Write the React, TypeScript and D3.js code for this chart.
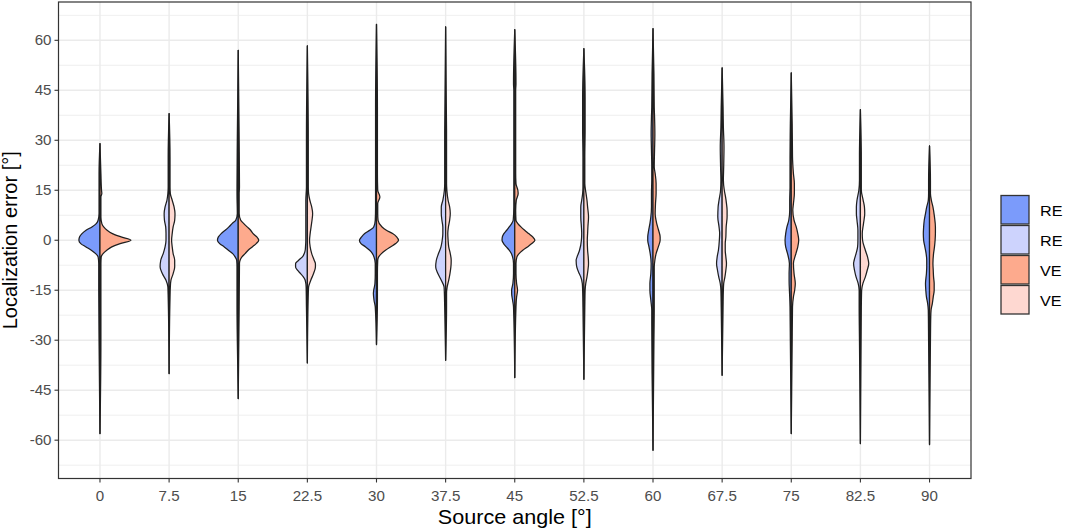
import * as d3 from "d3";

type Profile = [number, number][]; // [localization error, relative density in %]

const WIDTH = 1065;
const HEIGHT = 530;
const PANEL = { left: 58.5, right: 971, top: 2, bottom: 478.5 };
const FONT = "'Liberation Sans', Arial, sans-serif";
const STRETCH = 1.08; // the reference text is set a little wide
const GRID = "#EBEBEB";
const OUTLINE = "#1f1f1f";
const RE_FILLS = ["#7B9BFB", "#CDD3FD"];
const VE_FILLS = ["#FDAA8D", "#FED8D1"];

const ANGLES = ["0", "7.5", "15", "22.5", "30", "37.5", "45", "52.5", "60", "67.5", "75", "82.5", "90"];
const Y_TICKS = [-60, -45, -30, -15, 0, 15, 30, 45, 60];
const Y_MINOR = [-67.5, -52.5, -37.5, -22.5, -7.5, 7.5, 22.5, 37.5, 52.5, 67.5];
const LEGEND_LABELS = ["RE", "RE", "VE", "VE"];

// left halves (RE), one profile per source angle, from top of tail to bottom
const RE_DENSITY: Profile[] = [
  [[29, 0], [20, 3], [12, 3], [8, 3], [6, 6], [5, 12], [4, 26], [3, 45], [2, 58], [1, 66], [0, 68], [-1, 62], [-2, 45], [-3, 28], [-4, 14], [-5, 6], [-7, 4], [-15, 4], [-30, 3], [-58, 0]],
  [[38, 0], [25, 3], [16, 3], [14, 4], [12, 7], [10, 13], [8, 16], [6, 15], [4, 11], [2, 10], [0, 10], [-2, 13], [-4, 19], [-6, 27], [-8, 29], [-10, 22], [-12, 10], [-14, 4], [-17, 3], [-40, 0]],
  [[57, 0], [30, 3], [16, 4], [14, 4], [8, 3], [6, 8], [5, 20], [4, 30], [3, 42], [2, 55], [1, 64], [0, 67], [-1, 60], [-2, 45], [-3, 32], [-4, 18], [-5, 10], [-6, 5], [-8, 4], [-20, 4], [-30, 3], [-47.5, 0]],
  [[58.3, 0], [30, 3], [16, 3], [12, 5], [8, 5], [4, 5], [0, 5], [-2, 6], [-3, 7], [-4, 10], [-5, 16], [-6, 28], [-7, 38], [-8, 38], [-9, 32], [-10, 22], [-11, 13], [-12, 7], [-14, 4], [-20, 3], [-36.8, 0]],
  [[64.8, 0], [40, 3], [20, 3], [10, 3], [6, 4], [4, 9], [3, 22], [2, 38], [1, 48], [0, 55], [-1, 50], [-2, 35], [-3, 22], [-4, 13], [-5, 8], [-7, 4], [-10, 4], [-13, 5], [-15, 9], [-16, 10], [-18, 8], [-20, 4], [-31.3, 0]],
  [[64, 0], [30, 3], [17, 3], [15, 4], [12, 9], [10, 14], [8, 14], [6, 12], [4, 9], [2, 9], [0, 11], [-2, 15], [-4, 23], [-6, 30], [-8, 32], [-10, 25], [-12, 14], [-14, 5], [-16, 4], [-20, 3], [-36, 0]],
  [[63.2, 0], [47, 4], [45, 3], [20, 3], [10, 3], [6, 5], [5, 10], [4, 18], [3, 26], [2, 35], [1, 40], [0, 41], [-1, 36], [-2, 27], [-3, 18], [-4, 11], [-5, 7], [-7, 4], [-10, 4], [-13, 6], [-15, 10], [-16, 10], [-18, 7], [-20, 4], [-41.2, 0]],
  [[57.5, 0], [43, 4], [33, 4], [25, 3], [16, 3], [14, 4], [12, 7], [10, 10], [7, 10], [4, 8], [2, 7], [0, 8], [-3, 14], [-5, 22], [-6, 25], [-8, 23], [-10, 15], [-11, 10], [-13, 5], [-15, 4], [-20, 3], [-41.7, 0]],
  [[63.5, 0], [50, 3], [40, 4], [37, 5], [32, 6], [27, 5], [22, 4], [18, 4], [14, 5], [10, 5], [7, 7], [5, 10], [3, 14], [1, 17], [0, 17], [-2, 13], [-4, 9], [-7, 6], [-10, 7], [-13, 10], [-15, 10], [-18, 7], [-21, 4], [-25, 4], [-40, 3], [-63, 0]],
  [[51.7, 0], [40, 3], [34, 4], [28, 6], [22, 5], [18, 4], [15, 5], [12, 10], [10, 13], [7, 14], [4, 10], [2, 8], [0, 9], [-3, 12], [-5, 16], [-7, 18], [-9, 15], [-11, 11], [-13, 6], [-15, 4], [-20, 3], [-40.5, 0]],
  [[50.2, 0], [35, 3], [25, 4], [20, 4], [16, 4], [12, 5], [9, 5], [6, 8], [4, 14], [2, 18], [0, 20], [-2, 18], [-4, 12], [-7, 6], [-10, 7], [-12, 7], [-15, 6], [-17, 5], [-20, 4], [-30, 3], [-58, 0]],
  [[39.2, 0], [25, 3], [18, 3], [15, 5], [12, 11], [10, 13], [8, 13], [6, 11], [3, 8], [0, 8], [-2, 9], [-4, 14], [-6, 20], [-7, 22], [-9, 19], [-11, 14], [-13, 7], [-15, 4], [-20, 4], [-30, 3], [-61, 0]],
  [[28.3, 0], [18, 3], [14, 3], [12, 4], [10, 9], [8, 13], [6, 17], [4, 19], [2, 20], [0, 19], [-2, 15], [-4, 11], [-6, 9], [-8, 9], [-10, 10], [-13, 13], [-15, 12], [-17, 10], [-19, 6], [-21, 4], [-30, 3], [-61.3, 0]],
];

// right halves (VE)
const VE_DENSITY: Profile[] = [
  [[29, 0], [20, 3], [15, 5], [14, 6], [13, 3], [8, 3], [7, 3], [5, 6], [4, 12], [3, 23], [2, 40], [1, 68], [0, 100], [-1, 65], [-2, 38], [-3, 22], [-4, 10], [-5, 4], [-7, 3], [-30, 3], [-58, 0]],
  [[38, 0], [25, 3], [16, 3], [14, 4], [12, 10], [10, 16], [8, 19], [6, 18], [4, 13], [2, 10], [0, 8], [-2, 10], [-4, 13], [-6, 18], [-8, 18], [-10, 13], [-12, 6], [-14, 4], [-17, 3], [-40, 0]],
  [[57, 0], [30, 3], [16, 4], [14, 3], [8, 3], [6, 8], [5, 18], [4, 29], [3, 40], [2, 48], [1, 60], [0, 66], [-1, 58], [-2, 45], [-3, 32], [-4, 22], [-5, 12], [-6, 6], [-7, 4], [-20, 3], [-47.5, 0]],
  [[58.3, 0], [30, 3], [16, 3], [14, 4], [12, 8], [10, 14], [8, 17], [6, 15], [4, 12], [2, 9], [0, 7], [-2, 9], [-4, 14], [-6, 22], [-7, 26], [-8, 26], [-10, 20], [-12, 11], [-14, 4], [-16, 3], [-36.8, 0]],
  [[64.8, 0], [40, 3], [20, 3], [15, 4], [13, 11], [11, 4], [8, 4], [6, 5], [4, 18], [3, 32], [2, 52], [1, 65], [0, 71], [-1, 62], [-2, 45], [-3, 29], [-4, 16], [-5, 7], [-6, 4], [-10, 3], [-15, 3], [-18, 3], [-31.3, 0]],
  [[64, 0], [30, 3], [17, 3], [15, 4], [12, 8], [10, 13], [8, 15], [6, 13], [4, 9], [2, 7], [0, 8], [-2, 10], [-4, 15], [-6, 18], [-8, 17], [-10, 14], [-12, 10], [-14, 5], [-16, 3], [-20, 3], [-36, 0]],
  [[63.2, 0], [47, 4], [45, 3], [20, 3], [17, 4], [15, 10], [14, 11], [12, 5], [9, 3], [6, 4], [5, 10], [4, 20], [3, 32], [2, 45], [1, 58], [0, 65], [-1, 55], [-2, 41], [-3, 26], [-4, 14], [-5, 7], [-7, 4], [-10, 4], [-13, 6], [-15, 9], [-17, 6], [-20, 4], [-41.2, 0]],
  [[57.5, 0], [43, 4], [33, 4], [25, 3], [17, 3], [14, 7], [12, 10], [10, 12], [7, 15], [4, 13], [2, 12], [0, 11], [-3, 12], [-5, 14], [-7, 15], [-9, 13], [-11, 10], [-13, 6], [-15, 4], [-20, 3], [-41.7, 0]],
  [[63.5, 0], [50, 3], [40, 4], [37, 5], [32, 6], [27, 5], [22, 4], [20, 7], [17, 10], [14, 10], [11, 8], [8, 7], [5, 12], [3, 18], [1, 23], [0, 23], [-2, 17], [-4, 10], [-6, 6], [-8, 4], [-12, 4], [-20, 4], [-30, 3], [-63, 0]],
  [[51.7, 0], [40, 3], [34, 4], [28, 6], [22, 5], [18, 4], [15, 7], [13, 11], [11, 14], [9, 16], [7, 16], [4, 13], [1, 12], [-1, 10], [-3, 10], [-5, 12], [-7, 14], [-9, 12], [-11, 9], [-13, 5], [-15, 4], [-20, 3], [-40.5, 0]],
  [[50.2, 0], [35, 3], [25, 4], [20, 7], [17, 10], [14, 10], [11, 7], [9, 5], [6, 9], [4, 16], [2, 21], [0, 24], [-2, 21], [-4, 15], [-7, 7], [-10, 9], [-13, 13], [-15, 11], [-17, 7], [-20, 4], [-30, 3], [-58, 0]],
  [[39.2, 0], [25, 3], [18, 3], [15, 3], [12, 9], [10, 13], [8, 14], [5, 10], [2, 6], [0, 7], [-3, 16], [-5, 23], [-7, 27], [-9, 22], [-11, 16], [-13, 8], [-15, 4], [-20, 3], [-61, 0]],
  [[28.3, 0], [18, 3], [14, 3], [12, 6], [10, 11], [7, 16], [4, 19], [2, 19], [0, 18], [-2, 16], [-4, 13], [-7, 11], [-9, 12], [-11, 13], [-13, 15], [-15, 15], [-17, 12], [-19, 9], [-21, 5], [-23, 4], [-30, 3], [-61.3, 0]],
];

function WideText({ x, y, anchor, size, fill, children }: { x: number; y: number; anchor: "start" | "middle" | "end"; size: number; fill: string; children: React.ReactNode }) {
  return (
    <g transform={`translate(${x} ${y}) scale(${STRETCH} 1)`}>
      <text x="0" y="0" textAnchor={anchor} fontSize={size} fill={fill}>
        {children}
      </text>
    </g>
  );
}

export default function App() {
  const x = d3.scalePoint<string>().domain(ANGLES).range([PANEL.left, PANEL.right]).padding(0.6);
  const y = d3.scaleLinear().domain([-71.5, 71.5]).range([PANEL.bottom, PANEL.top]);
  const halfWidth = d3.scaleLinear().domain([0, 100]).range([0, 31]);

  const halfViolin = (cx: number, side: number, profile: Profile) =>
    d3
      .area<[number, number]>()
      .y((d) => y(d[0]))
      .x0(cx)
      .x1((d) => cx + side * halfWidth(d[1]))
      .curve(d3.curveMonotoneY)(profile) ?? undefined;

  const midX = (PANEL.left + PANEL.right) / 2;
  const midY = (PANEL.top + PANEL.bottom) / 2;
  const legendFills = [RE_FILLS[0], RE_FILLS[1], VE_FILLS[0], VE_FILLS[1]];

  return (
    <svg width={WIDTH} height={HEIGHT} viewBox={`0 0 ${WIDTH} ${HEIGHT}`} style={{ position: "absolute", left: 0, top: 0, display: "block" }} fontFamily={FONT}>
      <rect x="0" y="0" width={WIDTH} height={HEIGHT} fill="#ffffff" />

      {/* grid */}
      {Y_MINOR.map((t) => (
        <line key={`m${t}`} x1={PANEL.left} x2={PANEL.right} y1={y(t)} y2={y(t)} stroke={GRID} strokeWidth="0.8" />
      ))}
      {Y_TICKS.map((t) => (
        <line key={`g${t}`} x1={PANEL.left} x2={PANEL.right} y1={y(t)} y2={y(t)} stroke={GRID} strokeWidth="1.4" />
      ))}
      {ANGLES.map((a) => (
        <line key={`v${a}`} x1={x(a)} x2={x(a)} y1={PANEL.top} y2={PANEL.bottom} stroke={GRID} strokeWidth="1.4" />
      ))}

      {/* split violins */}
      {ANGLES.map((a, i) => {
        const cx = x(a) ?? 0;
        return (
          <g key={a} stroke={OUTLINE} strokeWidth="1.25" strokeLinejoin="round">
            <path d={halfViolin(cx, -1, RE_DENSITY[i])} fill={RE_FILLS[i % 2]} />
            <path d={halfViolin(cx, 1, VE_DENSITY[i])} fill={VE_FILLS[i % 2]} />
          </g>
        );
      })}

      {/* panel border */}
      <rect x={PANEL.left} y={PANEL.top} width={PANEL.right - PANEL.left} height={PANEL.bottom - PANEL.top} fill="none" stroke="#333333" strokeWidth="1.2" />

      {/* y axis */}
      {Y_TICKS.map((t) => (
        <g key={`yt${t}`}>
          <line x1={PANEL.left - 4} x2={PANEL.left} y1={y(t)} y2={y(t)} stroke="#333333" strokeWidth="1.1" />
          <WideText x={PANEL.left - 7} y={y(t) + 5} anchor="end" size={14} fill="#4D4D4D">
            {t}
          </WideText>
        </g>
      ))}

      {/* x axis */}
      {ANGLES.map((a) => (
        <g key={`xt${a}`}>
          <line x1={x(a)} x2={x(a)} y1={PANEL.bottom} y2={PANEL.bottom + 4} stroke="#333333" strokeWidth="1.1" />
          <WideText x={x(a) ?? 0} y={500.5} anchor="middle" size={14} fill="#4D4D4D">
            {a}
          </WideText>
        </g>
      ))}

      <WideText x={midX} y={524} anchor="middle" size={20} fill="#000000">
        Source angle [°]
      </WideText>
      <text x={17} y={midY} textAnchor="middle" fontSize="20" fill="#000000" transform={`rotate(-90 17 ${midY})`}>
        Localization error [°]
      </text>

      {/* legend */}
      {LEGEND_LABELS.map((label, i) => (
        <g key={`lg${i}`}>
          <rect x={1001} y={195.5 + i * 30} width={28} height={28.5} fill={legendFills[i]} stroke="#333333" strokeWidth="1.3" />
          <WideText x={1040} y={195.5 + i * 30 + 20} anchor="start" size={15} fill="#000000">
            {label}
          </WideText>
        </g>
      ))}
    </svg>
  );
}
